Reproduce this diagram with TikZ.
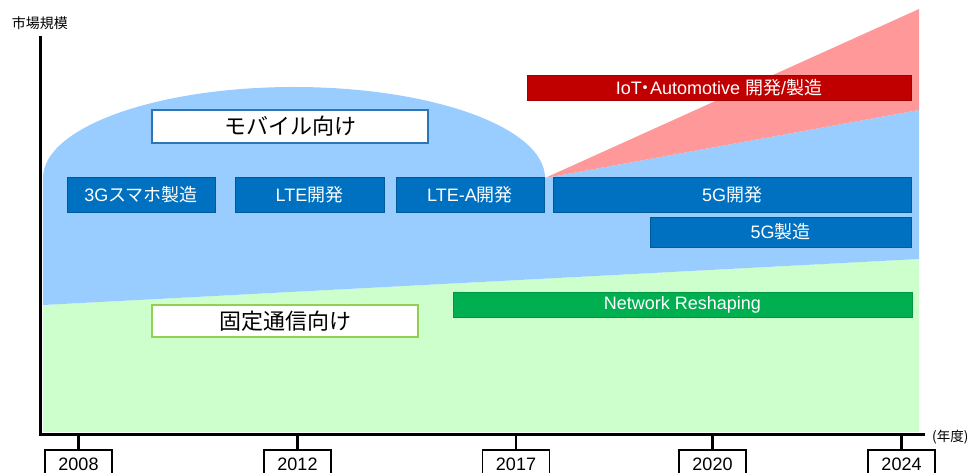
\documentclass[tikz,border=0pt]{standalone}
\usepackage{fontspec}
\setmainfont{Liberation Sans}
\newfontfamily\jp{Noto Sans CJK JP}
\definecolor{areablue}{HTML}{99CCFF}
\definecolor{areagreen}{HTML}{CCFFCC}
\definecolor{areared}{HTML}{FF9999}
\definecolor{boxblue}{HTML}{0070C0}
\definecolor{boxred}{HTML}{C00000}
\definecolor{boxgreen}{HTML}{00B050}
\definecolor{edgeblue}{HTML}{2E75B6}
\definecolor{edgegreen}{HTML}{92D050}
\tikzset{
  fillbox/.style={line width=0.6pt, text=white, inner sep=0pt, font=\fontsize{18}{20}\selectfont},
  bluebox/.style={fillbox, fill=boxblue, draw=boxblue!80!black, minimum height=35pt},
  redbox/.style={fillbox, fill=boxred, draw=boxred!85!black, minimum height=25pt},
  greenbox/.style={fillbox, fill=boxgreen, draw=boxgreen!85!black, minimum height=25pt},
  labelbox/.style={fill=white, line width=1.8pt, inner sep=0pt, text=black, font=\fontsize{22}{24}\selectfont\jp},
  yearbox/.style={draw=black, fill=white, line width=1.8pt, inner sep=0pt, minimum width=67pt, minimum height=28pt, anchor=north, font=\fontsize{18}{20}\selectfont},
  tick/.style={line width=2.2pt},
  axis/.style={line width=3pt},
}
\begin{document}
\begin{tikzpicture}[x=1pt,y=-1pt]
\useasboundingbox (0,0) rectangle (971,473);
% areas
\fill[areagreen] (43,305) -- (919,259) -- (919,432) -- (43,432) -- cycle;
\fill[areablue] (43,305) -- (43,178) arc[start angle=180, end angle=0, x radius=251pt, y radius=91pt] -- (919,110) -- (919,259) -- cycle;
\fill[areared] (545,178) -- (919,9) -- (919,110) -- cycle;
% axes
\coordinate (ytop) at (40,36);
\coordinate (orig) at (40,434);
\coordinate (xend) at (925,434);
\draw[axis] (ytop) -- (orig) -- (xend);
\node[font=\fontsize{14}{16}\selectfont\jp, inner sep=0pt] (ylab) at (40,23) {市場規模};
\node[font=\fontsize{13.5}{16}\selectfont\jp, inner sep=0pt, anchor=west] (xlab) at (932,437) {(年度)};
% label boxes
\node[labelbox, draw=edgeblue, minimum width=276pt, minimum height=33pt] (mob) at (290,126.5) {モバイル向け};
\node[labelbox, draw=edgegreen, minimum width=266pt, minimum height=32pt] (fix) at (285,321) {固定通信向け};
% blue boxes
\node[bluebox, minimum width=148pt] (g3) at (141,194.5) {3G{\jp スマホ製造}};
\node[bluebox, minimum width=149pt] (lte) at (309.5,194.5) {LTE{\jp 開発}};
\node[bluebox, minimum width=148pt] (ltea) at (470,194.5) {LTE-A{\jp 開発}};
\node[bluebox, minimum width=358pt] (g5d) at (732,194.5) {5G{\jp 開発}};
\node[bluebox, minimum width=261pt, minimum height=30pt] (g5m) at (780.5,232) {5G{\jp 製造}};
\node[redbox, minimum width=384pt] (iot) at (719,87.5) {IoT\kern-0.27em{\jp ・}\kern-0.27em Automotive {\jp 開発}/{\jp 製造}};
\node[greenbox, minimum width=459pt] (nr) at (682.5,304.5) {Network Reshaping};
% years
\node[yearbox] (y08) at (78.5,449) {2008};
\node[yearbox] (y12) at (297.5,449) {2012};
\node[yearbox] (y17) at (516,449) {2017};
\node[yearbox] (y20) at (712.5,449) {2020};
\node[yearbox] (y24) at (901.5,449) {2024};
\foreach \y in {y08,y12,y17,y20,y24}{
  \draw[tick] (\y.north) -- (\y.north |- orig);
}
\end{tikzpicture}
\end{document}
